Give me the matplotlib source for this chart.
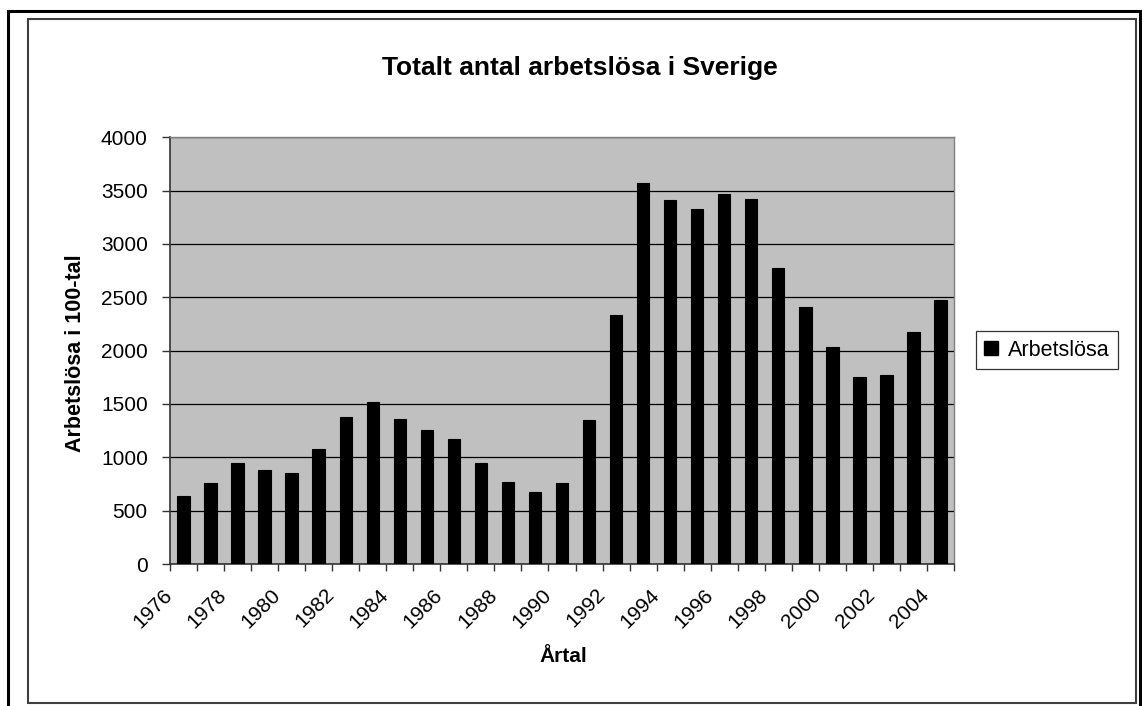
import matplotlib
matplotlib.use("Agg")
import matplotlib.pyplot as plt
from matplotlib.patches import Rectangle
from matplotlib.lines import Line2D
from matplotlib.transforms import ScaledTranslation
import numpy as np

years = list(range(1976, 2005))
arbetslosa = [640, 756, 944, 878, 850, 1081, 1381, 1519, 1362, 1253, 1175, 944,
              772, 675, 756, 1347, 2331, 3569, 3409, 3331, 3472, 3425, 2772,
              2409, 2034, 1753, 1769, 2175, 2472]
tick_labels = [str(y) for y in years[::2]]
y_ticks = list(range(0, 4001, 500))

plt.rcParams['font.family'] = ['Liberation Sans', 'DejaVu Sans']

W, H = 1142, 706
fig = plt.figure(figsize=(W / 100, H / 100), dpi=100)
fig.patch.set_facecolor('white')

def fx(px): return px / W
def fy(py): return 1 - py / H

# Borders
fig.add_artist(Line2D([fx(8), fx(8)], [fy(10.5), fy(706)], color='black', lw=2.2, transform=fig.transFigure))
fig.add_artist(Line2D([fx(8), fx(1139.5)], [fy(10.5), fy(10.5)], color='black', lw=2.2, transform=fig.transFigure))
fig.add_artist(Line2D([fx(1139.5), fx(1139.5)], [fy(10.5), fy(706)], color='black', lw=2.2, transform=fig.transFigure))
fig.add_artist(Rectangle((fx(28), fy(703)), fx(1136) - fx(28), fy(19) - fy(703),
                         fill=False, edgecolor='#404040', lw=1.5, transform=fig.transFigure))

ax = fig.add_axes([170 / W, 1 - 564 / H, (954 - 170) / W, (564 - 137.3) / H])
ax.set_facecolor('#C0C0C0')

x = np.arange(len(years))
ax.bar(x, arbetslosa, width=0.46, color='black', edgecolor='black', linewidth=0.8,
       label='Arbetslösa', zorder=3)

ax.set_xlim(-0.5, len(years) - 0.5)
ax.set_ylim(0, 4000)
ax.set_yticks(y_ticks)
ax.set_yticklabels([str(v) for v in y_ticks], fontsize=15)
ax.yaxis.grid(True, color='black', linewidth=0.9, zorder=1)
ax.set_axisbelow(True)

# x ticks at category boundaries, labels at every other category center
ax.set_xticks(np.arange(-0.5, len(years), 1.0))
ax.set_xticklabels([])
ax.set_xticks(x[::2], minor=True)
ax.set_xticklabels(tick_labels, minor=True, rotation=45, ha='right', va='center',
                   rotation_mode='anchor', fontsize=15)
ax.tick_params(axis='x', which='major', length=5, width=1, color='#333333', direction='out')
ax.tick_params(axis='x', which='minor', length=0, pad=20)
ax.tick_params(axis='y', length=6, width=1, color='#333333', direction='out', pad=10)
offset = ScaledTranslation(-0.14, 0, fig.dpi_scale_trans)
for lbl in ax.get_xticklabels(minor=True):
    lbl.set_transform(lbl.get_transform() + offset)

for s in ['top', 'right']:
    ax.spines[s].set_color('#808080')
    ax.spines[s].set_linewidth(1.0)
for s in ['left', 'bottom']:
    ax.spines[s].set_color('#333333')
    ax.spines[s].set_linewidth(1.2)

fig.text(580 / W, 1 - 68 / H, 'Totalt antal arbetslösa i Sverige', ha='center', va='center',
         fontsize=19, fontweight='bold')
fig.text(563 / W, 1 - 657 / H, 'Årtal', ha='center', va='center', fontsize=15, fontweight='bold')
fig.text(75.5 / W, 1 - 353 / H, 'Arbetslösa i 100-tal', ha='center', va='center', rotation=90,
         fontsize=15.5, fontweight='bold')

leg = fig.legend(handles=[Rectangle((0, 0), 1, 1, facecolor='black', edgecolor='black')],
                 labels=['Arbetslösa'], loc='center', bbox_to_anchor=(1047 / W, 1 - 350 / H),
                 fontsize=15.5, frameon=True, fancybox=False, handlelength=0.65, handleheight=0.65,
                 handletextpad=0.45, borderpad=0.4, borderaxespad=0)
leg.get_frame().set_edgecolor('black')
leg.get_frame().set_linewidth(0.9)

fig.savefig('out.png', dpi=100, facecolor='white')
